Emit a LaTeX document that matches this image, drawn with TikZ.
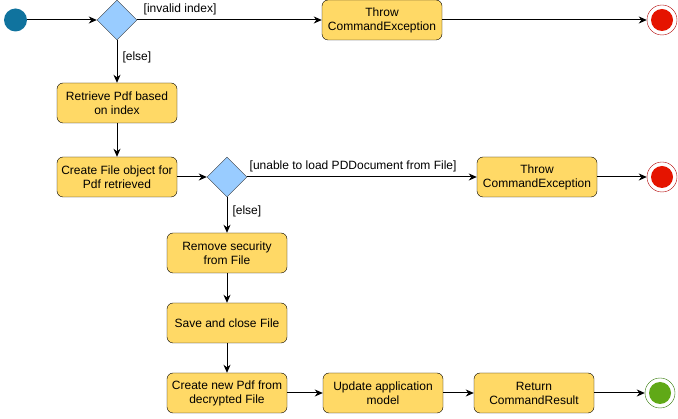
\documentclass[tikz,border=0pt]{standalone}
\usepackage{fontspec}
\setmainfont{Liberation Sans}
\usepackage{tikz}
\usetikzlibrary{shapes.geometric,arrows.meta}
\definecolor{actfill}{HTML}{FFD966}
\definecolor{decfill}{HTML}{99CCFF}
\definecolor{decline}{HTML}{36393D}
\definecolor{startfill}{HTML}{10739E}
\definecolor{stopfill}{HTML}{E51400}
\definecolor{stopline}{HTML}{B20000}
\definecolor{donefill}{HTML}{60A917}
\definecolor{doneline}{HTML}{2D7600}

\begin{document}
\begin{tikzpicture}[x=1pt, y=-1pt,
    act/.style  = {draw=black, fill=actfill, rounded corners=6pt, minimum width=120pt, minimum height=40pt, align=center, inner sep=2pt},
    dec/.style  = {diamond, aspect=1, draw=decline, fill=decfill, minimum size=40pt, inner sep=0pt},
    init/.style = {circle, fill=startfill, minimum size=23pt, inner sep=0pt},
    stop/.style = {circle, draw=#1line, fill=white, minimum size=30pt, inner sep=0pt,
                   path picture={\fill[#1fill] (path picture bounding box.center) circle (11pt);}},
    flow/.style = {-{Stealth[length=8pt, width=7pt, inset=2.5pt]}, line width=1pt},
    lab/.style  = {inner sep=2pt, fill=none}
  ]
  \tikzset{every node/.style={font=\fontsize{12}{14}\selectfont, text centered}}
  \useasboundingbox (0,0) rectangle (678,419);

  \node [init] (start) at (15.5,20) {};
  \node [dec] (dec1) at (117,20) {};
  \node [act] (throw1) at (382,20) {Throw\\CommandException};
  \node [stop=stop] (stop1) at (662,20) {};

  \node [act] (retrieve) at (117,103) {Retrieve Pdf based\\on index};
  \node [act] (file) at (117,177) {Create File object for\\Pdf retrieved};
  \node [dec] (dec2) at (227,177) {};
  \node [act] (throw2) at (537,177) {Throw\\CommandException};
  \node [stop=stop] (stop2) at (662,177) {};

  \node [act] (remove) at (227,253) {Remove security\\from File};
  \node [act] (save) at (227,323) {Save and close File};
  \node [act] (newpdf) at (227,393) {Create new Pdf from\\decrypted File};
  \node [act] (update) at (383,393) {Update application\\model};
  \node [act] (result) at (534,393) {Return\\CommandResult};
  \node [stop=done] (done) at (660,393) {};

  \path
      (start) edge [flow] (dec1)
      (dec1) edge [flow] node [lab, above right, pos=0, xshift=4pt, yshift=3pt] {[invalid index]} (throw1)
      (throw1) edge [flow] (stop1)
      (dec1) edge [flow] node [lab, right, pos=0.4, xshift=3pt] {[else]} (retrieve)
      (retrieve) edge [flow] (file)
      (file) edge [flow] (dec2)
      (dec2) edge [flow] node [lab, above right, pos=0, yshift=3pt] {[unable to load PDDocument from File]} (throw2)
      (throw2) edge [flow] (stop2)
      (dec2) edge [flow] node [lab, right, pos=0.4, xshift=3pt] {[else]} (remove)
      (remove) edge [flow] (save)
      (save) edge [flow] (newpdf)
      (newpdf) edge [flow] (update)
      (update) edge [flow] (result)
      (result) edge [flow] (done);
\end{tikzpicture}
\end{document}
